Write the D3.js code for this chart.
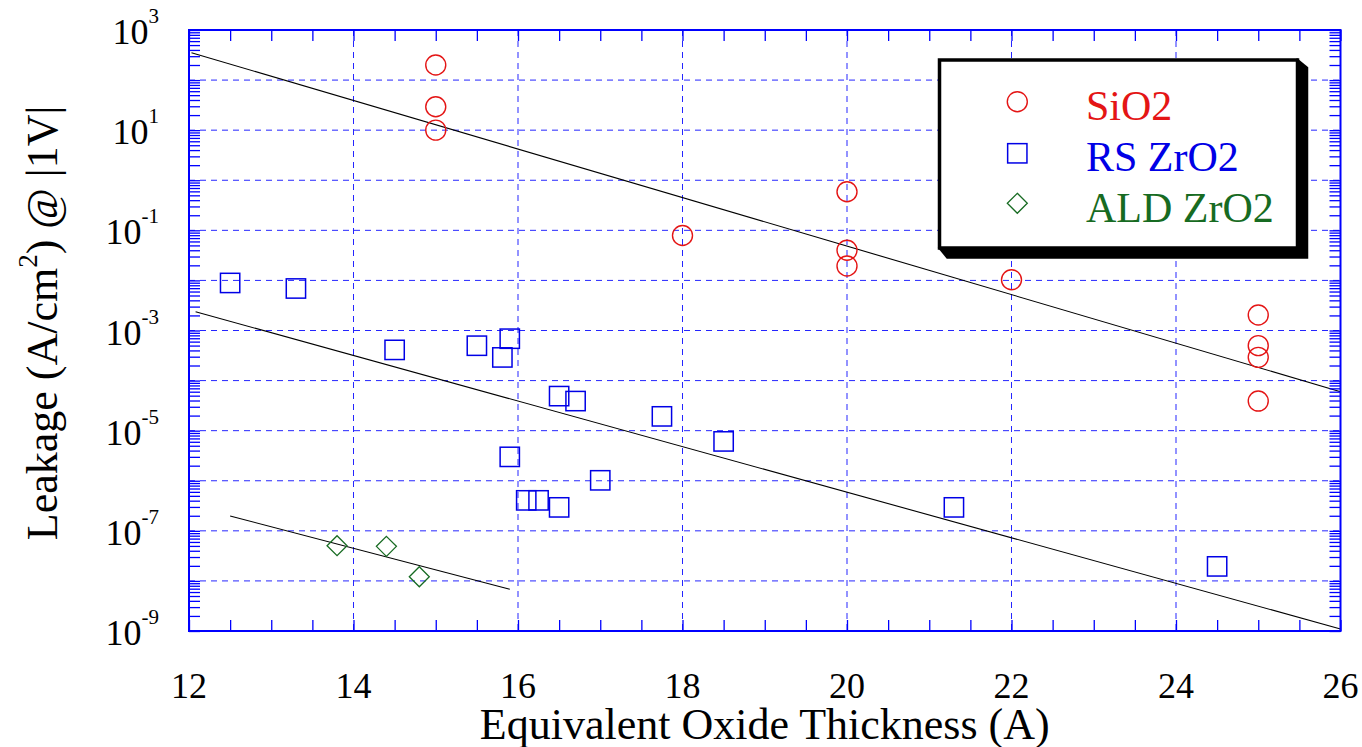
<!DOCTYPE html>
<html>
<head>
<meta charset="utf-8">
<script src="https://cdn.jsdelivr.net/npm/d3@7"></script>
<style>
  body { margin: 0; background: #fff; }
  svg { display: block; }
  text { font-family: "Liberation Serif", "Times New Roman", Times, serif; fill: #000; }
</style>
</head>
<body>
<svg id="chart" width="1362" height="747"></svg>
<script>
// ---- data ----
const xTickValues = [12, 14, 16, 18, 20, 22, 24, 26];
const yLabelExponents = [3, 1, -1, -3, -5, -7, -9];

const sio2Thickness = [15, 15, 15, 18, 20, 20, 20, 22, 25, 25, 25, 25];
const sio2Leakage   = [200, 29.4, 10, 0.079, 0.59, 0.040, 0.0194, 0.0103, 0.00204, 0.000498, 0.000291, 3.9e-5];

const rsThickness = [12.5, 13.3, 14.5, 15.5, 15.81, 15.9, 15.9, 16.1, 16.25, 16.5, 16.5, 16.7, 17.0, 17.75, 18.5, 21.3, 24.5];
const rsLeakage   = [0.0089, 0.0069, 0.00041, 0.000497, 0.00029, 0.000686, 3.0e-6, 4.06e-7, 4.06e-7, 4.9e-5, 2.94e-7, 3.9e-5, 1.02e-6, 1.93e-5, 6.1e-6, 2.94e-7, 1.95e-8];

const aldThickness = [13.8, 14.4, 14.8];
const aldLeakage   = [5.05e-8, 4.9e-8, 1.21e-8];

// straight-line fits (end points)
const sio2FitX = [12.03, 26];
const sio2FitY = [352, 6.0e-5];
const rsFitX = [12.08, 26];
const rsFitY = [2.37e-3, 1.1e-9];
const aldFitX = [12.5, 15.9];
const aldFitY = [1.98e-7, 6.8e-9];

const seriesNames = ["SiO2", "RS ZrO2", "ALD ZrO2"];

// ---- layout ----
const svg = d3.select("#chart");
const pL = 189, pR = 1340.5, pT = 30, pB = 631;
const RED = "#e41515", BLUE = "#0000e6", GREEN = "#176b22", AXIS = "#0000ff";

const x = d3.scaleLinear().domain([12, 26]).range([pL, pR]);
const y = d3.scaleLog().domain([1e-9, 1e3]).range([pB, pT]);

// ---- grid ----
const grid = svg.append("g").attr("stroke", AXIS).attr("stroke-width", 1)
  .attr("stroke-dasharray", "6,5").attr("opacity", 0.85);
grid.selectAll("line.v").data(xTickValues.slice(1, -1)).join("line")
  .attr("class", "v")
  .attr("x1", d => x(d)).attr("x2", d => x(d)).attr("y1", pT).attr("y2", pB);
grid.selectAll("line.h").data(d3.range(-8, 3).map(e => Math.pow(10, e))).join("line")
  .attr("class", "h")
  .attr("x1", pL).attr("x2", pR).attr("y1", d => y(d)).attr("y2", d => y(d));

// ---- fit lines ----
const fits = [[sio2FitX, sio2FitY], [rsFitX, rsFitY], [aldFitX, aldFitY]];
const lineGen = d3.line().x(d => x(d[0])).y(d => y(d[1]));
svg.append("g").selectAll("path").data(fits).join("path")
  .attr("d", f => lineGen(f[0].map((v, i) => [v, f[1][i]])))
  .attr("fill", "none").attr("stroke", "#000").attr("stroke-width", 1.1);

// ---- markers ----
const zipPts = (xs, ys) => xs.map((v, i) => [v, ys[i]]);
svg.append("g").selectAll("circle").data(zipPts(sio2Thickness, sio2Leakage)).join("circle")
  .attr("cx", d => x(d[0])).attr("cy", d => y(d[1])).attr("r", 10)
  .attr("fill", "none").attr("stroke", RED).attr("stroke-width", 1.4);

const sq = 19.3;
svg.append("g").selectAll("rect").data(zipPts(rsThickness, rsLeakage)).join("rect")
  .attr("x", d => x(d[0]) - sq / 2).attr("y", d => y(d[1]) - sq / 2)
  .attr("width", sq).attr("height", sq)
  .attr("fill", "none").attr("stroke", BLUE).attr("stroke-width", 1.5);

const diamond = (cx, cy, h) => `M${cx},${cy - h}L${cx + h},${cy}L${cx},${cy + h}L${cx - h},${cy}Z`;
svg.append("g").selectAll("path").data(zipPts(aldThickness, aldLeakage)).join("path")
  .attr("d", d => diamond(x(d[0]), y(d[1]), 10))
  .attr("fill", "none").attr("stroke", GREEN).attr("stroke-width", 1.3);

// ---- axes (inward ticks on all four sides) ----
const xMinor = d3.range(12, 26.001, 0.5);
const yMinor = [];
for (let e = -9; e < 3; e++) for (let k = 1; k < 10; k++) yMinor.push(k * Math.pow(10, e));
yMinor.push(1e3);

const tickLen = 11;
const styleAxis = g => {
  g.select(".domain").remove();
  g.selectAll(".tick line").attr("stroke", AXIS).attr("stroke-width", 1.3);
  g.selectAll(".tick text").remove();
};
svg.append("g").attr("transform", `translate(0,${pB})`)
  .call(d3.axisBottom(x).tickValues(xMinor).tickSize(-tickLen)).call(styleAxis);
svg.append("g").attr("transform", `translate(0,${pT})`)
  .call(d3.axisTop(x).tickValues(xMinor).tickSize(-tickLen)).call(styleAxis);
svg.append("g").attr("transform", `translate(${pL},0)`)
  .call(d3.axisLeft(y).tickValues(yMinor).tickSize(-tickLen)).call(styleAxis);
svg.append("g").attr("transform", `translate(${pR},0)`)
  .call(d3.axisRight(y).tickValues(yMinor).tickSize(-tickLen)).call(styleAxis);

// frame
svg.append("rect").attr("x", pL).attr("y", pT)
  .attr("width", pR - pL).attr("height", pB - pT)
  .attr("fill", "none").attr("stroke", AXIS).attr("stroke-width", 2);

// ---- tick labels ----
svg.append("g").selectAll("text").data(xTickValues).join("text")
  .attr("x", d => x(d)).attr("y", 698).attr("text-anchor", "middle")
  .attr("font-size", 36).text(d => d);

const yl = svg.append("g").selectAll("text").data(yLabelExponents).join("text")
  .attr("x", 159).attr("y", d => y(Math.pow(10, d)) + 14)
  .attr("text-anchor", "end").attr("font-size", 36);
yl.append("tspan").text("10");
yl.append("tspan").attr("font-size", 21).attr("dy", -21).text(d => d);

// ---- axis titles ----
svg.append("text").attr("x", (pL + pR) / 2).attr("y", 739)
  .attr("text-anchor", "middle").attr("font-size", 44)
  .text("Equivalent Oxide Thickness (A)");

const yt = svg.append("text")
  .attr("transform", `translate(57,323) rotate(-90)`)
  .attr("text-anchor", "middle").attr("font-size", 44);
yt.append("tspan").text("Leakage (A/cm");
yt.append("tspan").attr("font-size", 27).attr("dy", -20).text("2");
yt.append("tspan").attr("dy", 20).text(") @ |1V|");

// ---- legend ----
const lg = svg.append("g");
const bx0 = 937.75, by0 = 58.25, bx1 = 1299.25, by1 = 249.75, sh = 9;
lg.append("path")
  .attr("d", `M${bx1 - 2},${by0}L${bx1 + sh},${by0 + sh}L${bx1 + sh},${by1 + sh}L${bx0 + sh},${by1 + sh}L${bx0},${by1 - 2}Z`)
  .attr("fill", "#000");
lg.append("rect").attr("x", bx0 + 1.75).attr("y", by0 + 1.75)
  .attr("width", bx1 - bx0 - 3.5).attr("height", by1 - by0 - 3.5)
  .attr("fill", "#fff").attr("stroke", "#000").attr("stroke-width", 3.5);

const legendColors = [RED, BLUE, GREEN];
const markerY = [101.7, 153.3, 203.3];
const textY = [120, 171, 222];
const mx = 1017.3;
lg.append("circle").attr("cx", mx).attr("cy", markerY[0]).attr("r", 10)
  .attr("fill", "none").attr("stroke", RED).attr("stroke-width", 1.4);
lg.append("rect").attr("x", mx - sq / 2).attr("y", markerY[1] - sq / 2)
  .attr("width", sq).attr("height", sq)
  .attr("fill", "none").attr("stroke", BLUE).attr("stroke-width", 1.5);
lg.append("path").attr("d", diamond(mx, markerY[2], 10))
  .attr("fill", "none").attr("stroke", GREEN).attr("stroke-width", 1.3);
lg.selectAll("text.lbl").data(seriesNames).join("text")
  .attr("class", "lbl")
  .attr("x", 1086).attr("y", (d, i) => textY[i])
  .attr("font-size", 42)
  .style("fill", (d, i) => legendColors[i])
  .text(d => d);
</script>
</body>
</html>
